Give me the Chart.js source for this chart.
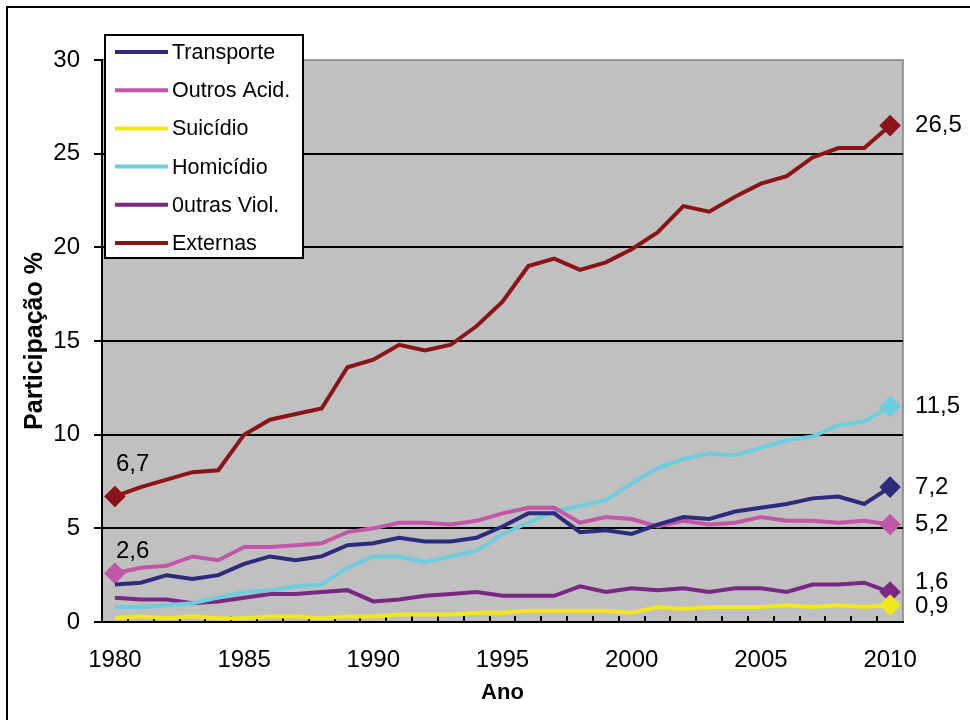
<!DOCTYPE html>
<html>
<head>
<meta charset="utf-8">
<script src="https://cdn.jsdelivr.net/npm/chart.js@4"></script>
<style>
  html, body { margin: 0; padding: 0; background: #fff; }
  #wrap { width: 970px; height: 720px; }
</style>
</head>
<body>
<div id="wrap"><canvas id="chart" width="970" height="720"></canvas></div>
<script>
// Dados
const years = [];
for (let y = 1980; y <= 2010; y++) years.push(String(y));

const transporte = [2.0, 2.1, 2.5, 2.3, 2.5, 3.1, 3.5, 3.3, 3.5, 4.1, 4.2, 4.5, 4.3, 4.3, 4.5, 5.1, 5.8, 5.8, 4.8, 4.9, 4.7, 5.2, 5.6, 5.5, 5.9, 6.1, 6.3, 6.6, 6.7, 6.3, 7.2];
const outrosAcid = [2.6, 2.9, 3.0, 3.5, 3.3, 4.0, 4.0, 4.1, 4.2, 4.8, 5.0, 5.3, 5.3, 5.2, 5.4, 5.8, 6.1, 6.1, 5.3, 5.6, 5.5, 5.1, 5.4, 5.2, 5.3, 5.6, 5.4, 5.4, 5.3, 5.4, 5.2];
const suicidio   = [0.2, 0.3, 0.2, 0.3, 0.2, 0.2, 0.3, 0.3, 0.2, 0.3, 0.3, 0.4, 0.4, 0.4, 0.5, 0.5, 0.6, 0.6, 0.6, 0.6, 0.5, 0.8, 0.7, 0.8, 0.8, 0.8, 0.9, 0.8, 0.9, 0.8, 0.9];
const homicidio  = [0.8, 0.8, 0.9, 1.0, 1.3, 1.6, 1.7, 1.9, 2.0, 2.9, 3.5, 3.5, 3.2, 3.5, 3.8, 4.7, 5.3, 5.9, 6.2, 6.5, 7.4, 8.2, 8.7, 9.0, 8.9, 9.3, 9.7, 9.9, 10.5, 10.7, 11.5];
const outrasViol = [1.3, 1.2, 1.2, 1.0, 1.1, 1.3, 1.5, 1.5, 1.6, 1.7, 1.1, 1.2, 1.4, 1.5, 1.6, 1.4, 1.4, 1.4, 1.9, 1.6, 1.8, 1.7, 1.8, 1.6, 1.8, 1.8, 1.6, 2.0, 2.0, 2.1, 1.6];
const externas   = [6.7, 7.2, 7.6, 8.0, 8.1, 10.0, 10.8, 11.1, 11.4, 13.6, 14.0, 14.8, 14.5, 14.8, 15.8, 17.1, 19.0, 19.4, 18.8, 19.2, 19.9, 20.8, 22.2, 21.9, 22.7, 23.4, 23.8, 24.8, 25.3, 25.3, 26.5];

const seriesNames = ['Transporte', 'Outros Acid.', 'Suicídio', 'Homicídio', '0utras Viol.', 'Externas'];
const yTicks = [0, 5, 10, 15, 20, 25, 30];

const fmt = (v) => String(v.toFixed(1)).replace('.', ',');
const FONT = 'Liberation Sans, Arial, sans-serif';

// marcadores: só no fim (e no início p/ Externas e Outros Acid.)
function radii(withStart) {
  return years.map((_, i) => (i === years.length - 1 || (withStart && i === 0)) ? 8 : 0);
}

function mkSet(label, data, color, withStart, extra) {
  return Object.assign({
    label, data,
    borderColor: color,
    backgroundColor: color,
    borderWidth: 4,
    pointStyle: 'rectRot',
    pointRadius: radii(withStart),
    pointHoverRadius: 0,
    tension: 0,
    clip: false
  }, extra || {});
}

const datasets = [
  mkSet(seriesNames[0], transporte, '#2B2C7C', false, { endDy: 0 }),
  mkSet(seriesNames[1], outrosAcid, '#C257A7', true,  { endDy: 0, startDy: -22 }),
  mkSet(seriesNames[2], suicidio,   '#F2E71B', false, { endDy: 1 }),
  mkSet(seriesNames[3], homicidio,  '#6BCDDD', false, { endDy: 0 }),
  mkSet(seriesNames[4], outrasViol, '#7A2983', false, { endDy: -10 }),
  mkSet(seriesNames[5], externas,   '#8A1417', true,  { endDy: 0, startDy: -32 })
];

// Plugin: fundo, moldura, ticks internos, rótulos e legenda
const decor = {
  id: 'decor',
  beforeDraw(chart) {
    const { ctx, chartArea: a } = chart;
    ctx.save();
    ctx.fillStyle = '#fff';
    ctx.fillRect(0, 0, chart.width, chart.height);
    ctx.fillStyle = '#C0C0C0';
    ctx.fillRect(a.left, a.top, a.right - a.left, a.bottom - a.top);
    // moldura externa
    ctx.strokeStyle = '#000';
    ctx.lineWidth = 2;
    ctx.strokeRect(7, 7, 1100, 1100);
    // borda direita/topo da área
    ctx.strokeStyle = '#808080';
    ctx.lineWidth = 1.5;
    ctx.beginPath();
    ctx.moveTo(a.left, a.top);
    ctx.lineTo(a.right, a.top);
    ctx.lineTo(a.right, a.bottom);
    ctx.stroke();
    ctx.restore();
  },
  beforeDatasetsDraw(chart) {
    const { ctx, chartArea: a, scales: { x } } = chart;
    ctx.save();
    ctx.strokeStyle = '#000';
    ctx.lineWidth = 2;
    ctx.beginPath();
    for (let i = 1; i < years.length; i++) {
      const px = Math.round((x.getPixelForValue(i - 1) + x.getPixelForValue(i)) / 2);
      ctx.moveTo(px, a.bottom);
      ctx.lineTo(px, a.bottom - 6);
    }
    ctx.stroke();
    ctx.restore();
  },
  afterDraw(chart) {
    const { ctx } = chart;
    ctx.save();
    ctx.fillStyle = '#000';
    ctx.font = '24px ' + FONT;
    ctx.textBaseline = 'middle';
    chart.data.datasets.forEach((ds, di) => {
      const pts = chart.getDatasetMeta(di).data;
      const last = pts[pts.length - 1];
      ctx.textAlign = 'left';
      ctx.fillText(fmt(ds.data[ds.data.length - 1]), last.x + 25, last.y + (ds.endDy || 0));
      if (ds.startDy !== undefined) {
        ctx.fillText(fmt(ds.data[0]), pts[0].x + 1, pts[0].y + ds.startDy);
      }
    });

    // legenda
    const lx = 105, ly = 35, lw = 198, lh = 223;
    ctx.fillStyle = '#fff';
    ctx.fillRect(lx, ly, lw, lh);
    ctx.strokeStyle = '#000';
    ctx.lineWidth = 2;
    ctx.strokeRect(lx, ly, lw, lh);
    ctx.font = '21.5px ' + FONT;
    ctx.textAlign = 'left';
    chart.data.datasets.forEach((ds, i) => {
      const yy = ly + 17 + i * 38.2;
      ctx.strokeStyle = ds.borderColor;
      ctx.lineWidth = 4;
      ctx.beginPath();
      ctx.moveTo(lx + 10, yy);
      ctx.lineTo(lx + 63, yy);
      ctx.stroke();
      ctx.fillStyle = '#000';
      ctx.fillText(ds.label, lx + 67, yy + 1);
    });
    ctx.restore();
  }
};

new Chart(document.getElementById('chart'), {
  type: 'line',
  data: { labels: years, datasets },
  plugins: [decor],
  options: {
    responsive: false,
    animation: false,
    events: [],
    layout: { padding: { left: 0, top: 60, right: 67, bottom: 0 } },
    plugins: { legend: { display: false }, tooltip: { enabled: false } },
    scales: {
      x: {
        type: 'category',
        offset: true,
        afterFit: (s) => { s.height = 98; },
        grid: { display: false },
        border: { display: true, color: '#000', width: 2 },
        ticks: {
          autoSkip: false,
          maxRotation: 0,
          padding: 16,
          color: '#000',
          font: { family: FONT, size: 24 },
          callback: (v, i) => (Number(years[i]) % 5 === 0 ? years[i] : '')
        },
        title: {
          display: true, text: 'Ano', color: '#000',
          font: { family: FONT, size: 22, weight: 'bold' },
          padding: { top: 0, bottom: 14 }
        }
      },
      y: {
        min: 0, max: 30,
        afterFit: (s) => { s.width = 102; },
        afterBuildTicks: (s) => { s.ticks = yTicks.map(v => ({ value: v })); },
        grid: {
          color: (c) => (c.tick && c.tick.value === 30 ? '#808080' : '#000'),
          lineWidth: (c) => (c.tick && (c.tick.value === 0 || c.tick.value === 30) ? 0 : 2),
          tickColor: '#000',
          tickWidth: 2,
          tickLength: 8
        },
        border: { display: true, color: '#000', width: 2 },
        ticks: {
          padding: 14,
          color: '#000',
          font: { family: FONT, size: 24 }
        },
        title: {
          display: true, text: 'Participação %', color: '#000',
          font: { family: FONT, size: 25, weight: 'bold' },
          padding: { top: 20, bottom: 0 }
        }
      }
    }
  }
});
</script>
</body>
</html>
